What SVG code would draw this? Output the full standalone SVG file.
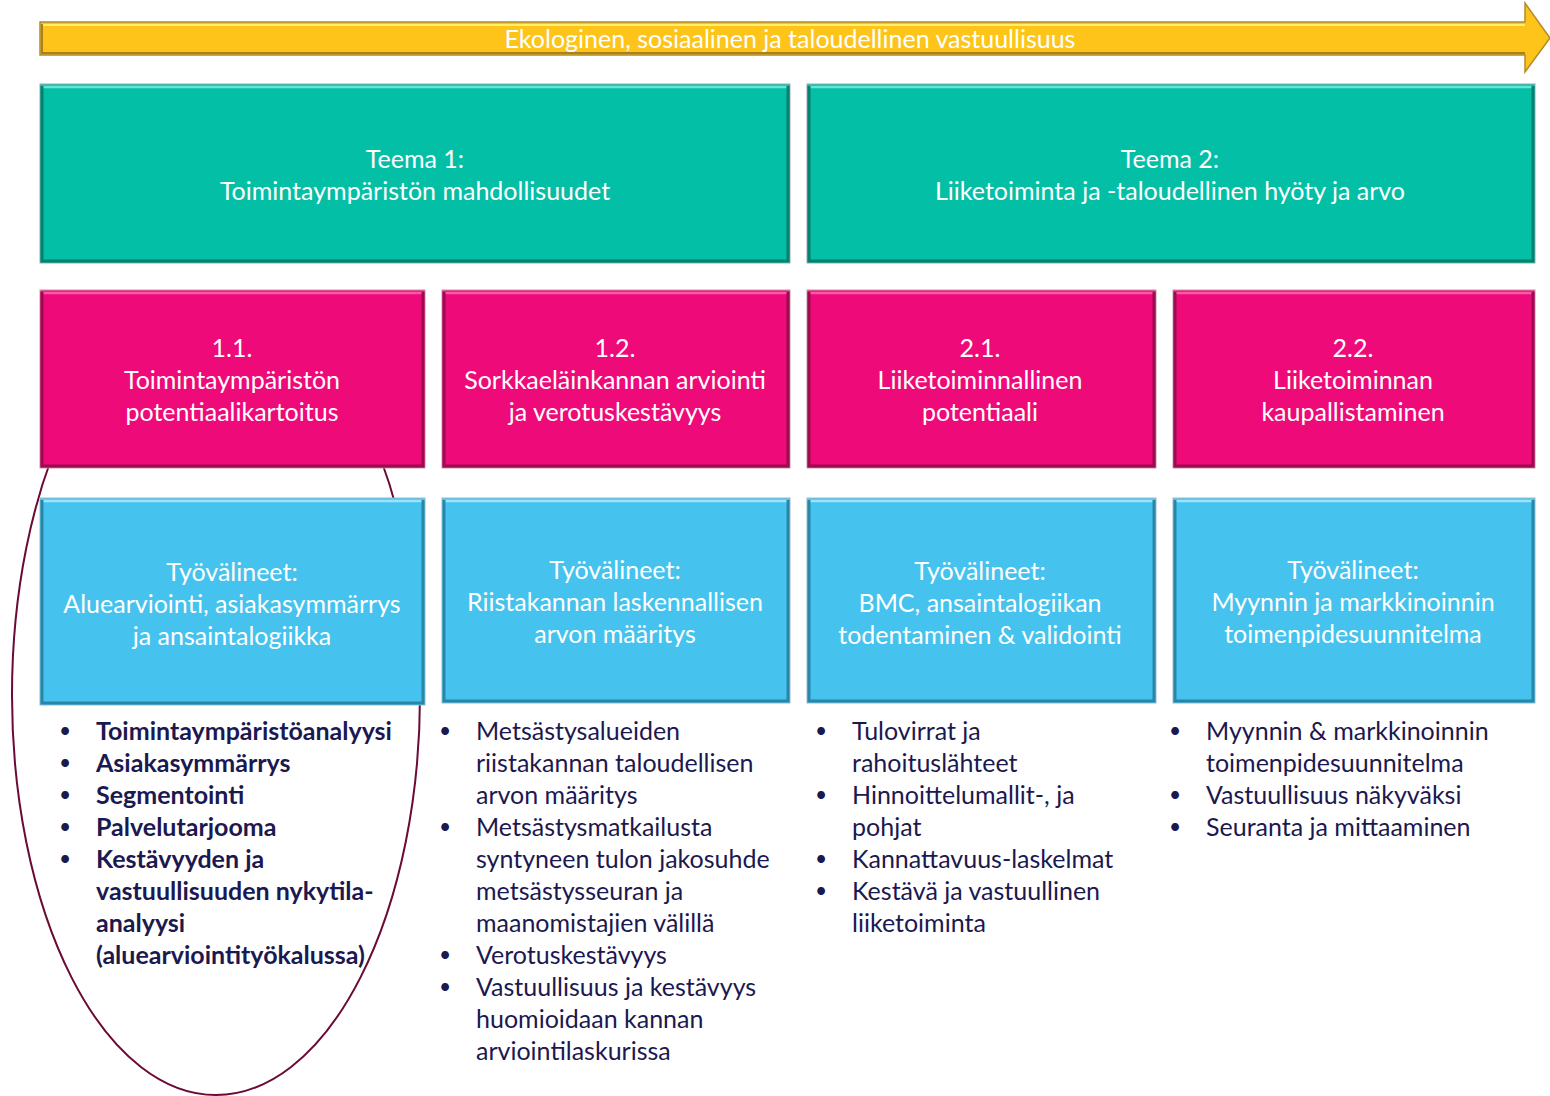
<svg xmlns="http://www.w3.org/2000/svg" width="1550" height="1096" viewBox="0 0 1550 1096">
<style>
text{font-family:Lato,"Open Sans","Liberation Sans",sans-serif;}
.hd{font-size:25px;fill:#ffffff;text-anchor:middle;}
.li{font-size:25px;fill:#1c1850;}
.bu{font-size:21px;fill:#1c1850;}
.b{font-weight:bold;}
.teal{fill:#03bfa5;stroke:#9ab;stroke-width:1;}
.pink{fill:#ee0a78;stroke:#c9a;stroke-width:1;}
.blue{fill:#45c3ee;stroke:#9bc;stroke-width:1;}
.hl{fill:none;stroke-width:2.5;}
.dk{fill:none;stroke-width:3;}
</style>
<g id="ellipse">
<ellipse cx="216" cy="695" rx="204" ry="400" fill="none" stroke="#6a0a35" stroke-width="2"/>
</g>
<g id="arrow">
<path d="M40,22 H1525 V3 L1550,38 L1525,72 V55 H40 Z" fill="#fec41a" stroke="#b08a30" stroke-width="1.5"/>
<path d="M42,25 H1525" stroke="#fff06a" stroke-width="2" fill="none"/>
<path d="M42,24 V53 H1525" stroke="#a88020" stroke-width="2" fill="none"/>
<text x="790" y="48" class="hd" fill="#fff8e0">Ekologinen, sosiaalinen ja taloudellinen vastuullisuus</text>
</g>
<g id="teema1">
<rect x="40" y="84" width="750" height="179" class="teal"/>
<path d="M42,87 H788" class="hl" stroke="#5fe8d2"/>
<path d="M42,86 V261 H788 V86" class="dk" stroke="#08806e"/>
<text class="hd"><tspan x="415" y="168">Teema 1:</tspan><tspan x="415" y="200">Toimintaympäristön mahdollisuudet</tspan></text>
</g>
<g id="teema2">
<rect x="807" y="84" width="728" height="179" class="teal"/>
<path d="M809,87 H1533" class="hl" stroke="#5fe8d2"/>
<path d="M809,86 V261 H1533 V86" class="dk" stroke="#08806e"/>
<text class="hd"><tspan x="1170" y="168">Teema 2:</tspan><tspan x="1170" y="200">Liiketoiminta ja -taloudellinen hyöty ja arvo</tspan></text>
</g>
<g id="p11">
<rect x="40" y="290" width="385" height="178" class="pink"/>
<path d="M42,293 H423" class="hl" stroke="#fb5aa8"/>
<path d="M42,292 V466 H423 V292" class="dk" stroke="#9a0c50"/>
<text class="hd"><tspan x="232" y="357">1.1.</tspan><tspan x="232" y="389">Toimintaympäristön</tspan><tspan x="232" y="421">potentiaalikartoitus</tspan></text>
</g>
<g id="p12">
<rect x="442" y="290" width="348" height="178" class="pink"/>
<path d="M444,293 H788" class="hl" stroke="#fb5aa8"/>
<path d="M444,292 V466 H788 V292" class="dk" stroke="#9a0c50"/>
<text class="hd"><tspan x="615" y="357">1.2.</tspan><tspan x="615" y="389">Sorkkaeläinkannan  arviointi</tspan><tspan x="615" y="421">ja verotuskestävyys</tspan></text>
</g>
<g id="p21">
<rect x="807" y="290" width="349" height="178" class="pink"/>
<path d="M809,293 H1154" class="hl" stroke="#fb5aa8"/>
<path d="M809,292 V466 H1154 V292" class="dk" stroke="#9a0c50"/>
<text class="hd"><tspan x="980" y="357">2.1.</tspan><tspan x="980" y="389">Liiketoiminnallinen</tspan><tspan x="980" y="421">potentiaali</tspan></text>
</g>
<g id="p22">
<rect x="1173" y="290" width="362" height="178" class="pink"/>
<path d="M1175,293 H1533" class="hl" stroke="#fb5aa8"/>
<path d="M1175,292 V466 H1533 V292" class="dk" stroke="#9a0c50"/>
<text class="hd"><tspan x="1353" y="357">2.2.</tspan><tspan x="1353" y="389">Liiketoiminnan</tspan><tspan x="1353" y="421">kaupallistaminen</tspan></text>
</g>
<g id="b11">
<rect x="40" y="498" width="385" height="207" class="blue"/>
<path d="M42,501 H423" class="hl" stroke="#9ae4fb"/>
<path d="M42,500 V703 H423 V500" class="dk" stroke="#2a86a8"/>
<text class="hd"><tspan x="232" y="581">Työvälineet:</tspan><tspan x="232" y="613">Aluearviointi, asiakasymmärrys</tspan><tspan x="232" y="645">ja ansaintalogiikka</tspan></text>
</g>
<g id="b12">
<rect x="442" y="498" width="348" height="205" class="blue"/>
<path d="M444,501 H788" class="hl" stroke="#9ae4fb"/>
<path d="M444,500 V701 H788 V500" class="dk" stroke="#2a86a8"/>
<text class="hd"><tspan x="615" y="579">Työvälineet:</tspan><tspan x="615" y="611">Riistakannan laskennallisen</tspan><tspan x="615" y="643">arvon määritys</tspan></text>
</g>
<g id="b21">
<rect x="807" y="498" width="349" height="205" class="blue"/>
<path d="M809,501 H1154" class="hl" stroke="#9ae4fb"/>
<path d="M809,500 V701 H1154 V500" class="dk" stroke="#2a86a8"/>
<text class="hd"><tspan x="980" y="580">Työvälineet:</tspan><tspan x="980" y="612">BMC, ansaintalogiikan</tspan><tspan x="980" y="644">todentaminen &amp; validointi</tspan></text>
</g>
<g id="b22">
<rect x="1173" y="498" width="362" height="205" class="blue"/>
<path d="M1175,501 H1533" class="hl" stroke="#9ae4fb"/>
<path d="M1175,500 V701 H1533 V500" class="dk" stroke="#2a86a8"/>
<text class="hd"><tspan x="1353" y="579">Työvälineet:</tspan><tspan x="1353" y="611">Myynnin ja markkinoinnin</tspan><tspan x="1353" y="643">toimenpidesuunnitelma</tspan></text>
</g>
<g id="list1">
<text class="bu"><tspan x="59" y="738">•</tspan><tspan x="59" y="770">•</tspan><tspan x="59" y="802">•</tspan><tspan x="59" y="834">•</tspan><tspan x="59" y="866">•</tspan></text>
<text class="li b"><tspan x="96" y="740">Toimintaympäristöanalyysi</tspan><tspan x="96" y="772">Asiakasymmärrys</tspan><tspan x="96" y="804">Segmentointi</tspan><tspan x="96" y="836">Palvelutarjooma</tspan><tspan x="96" y="868">Kestävyyden ja</tspan><tspan x="96" y="900">vastuullisuuden nykytila-</tspan><tspan x="96" y="932">analyysi</tspan><tspan x="96" y="964">(aluearviointityökalussa)</tspan></text>
</g>
<g id="list2">
<text class="bu"><tspan x="439" y="738">•</tspan><tspan x="439" y="834">•</tspan><tspan x="439" y="962">•</tspan><tspan x="439" y="994">•</tspan></text>
<text class="li"><tspan x="476" y="740">Metsästysalueiden</tspan><tspan x="476" y="772">riistakannan taloudellisen</tspan><tspan x="476" y="804">arvon määritys</tspan><tspan x="476" y="836">Metsästysmatkailusta</tspan><tspan x="476" y="868">syntyneen tulon jakosuhde</tspan><tspan x="476" y="900">metsästysseuran ja</tspan><tspan x="476" y="932">maanomistajien välillä</tspan><tspan x="476" y="964">Verotuskestävyys</tspan><tspan x="476" y="996">Vastuullisuus ja kestävyys</tspan><tspan x="476" y="1028">huomioidaan kannan</tspan><tspan x="476" y="1060">arviointilaskurissa</tspan></text>
</g>
<g id="list3">
<text class="bu"><tspan x="815" y="738">•</tspan><tspan x="815" y="802">•</tspan><tspan x="815" y="866">•</tspan><tspan x="815" y="898">•</tspan></text>
<text class="li"><tspan x="852" y="740">Tulovirrat ja</tspan><tspan x="852" y="772">rahoituslähteet</tspan><tspan x="852" y="804">Hinnoittelumallit-, ja</tspan><tspan x="852" y="836">pohjat</tspan><tspan x="852" y="868">Kannattavuus-laskelmat</tspan><tspan x="852" y="900">Kestävä ja vastuullinen</tspan><tspan x="852" y="932">liiketoiminta</tspan></text>
</g>
<g id="list4">
<text class="bu"><tspan x="1169" y="738">•</tspan><tspan x="1169" y="802">•</tspan><tspan x="1169" y="834">•</tspan></text>
<text class="li"><tspan x="1206" y="740">Myynnin &amp; markkinoinnin</tspan><tspan x="1206" y="772">toimenpidesuunnitelma</tspan><tspan x="1206" y="804">Vastuullisuus näkyväksi</tspan><tspan x="1206" y="836">Seuranta ja mittaaminen</tspan></text>
</g>
</svg>
